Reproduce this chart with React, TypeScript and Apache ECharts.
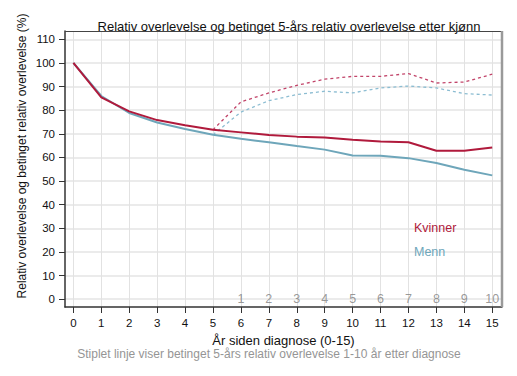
import React, { useEffect, useRef } from "react";
import * as echarts from "echarts";

const years = [0, 1, 2, 3, 4, 5, 6, 7, 8, 9, 10, 11, 12, 13, 14, 15];
const kvinner = [100, 85.4, 79.5, 75.8, 73.6, 71.7, 70.6, 69.5, 68.8, 68.4, 67.5, 66.7, 66.4, 62.8, 62.8, 64.2];
const menn = [100, 86.0, 78.8, 74.8, 72.0, 69.6, 67.9, 66.4, 64.8, 63.3, 60.8, 60.7, 59.7, 57.6, 54.8, 52.4];
const condYears = [5, 6, 7, 8, 9, 10, 11, 12, 13, 14, 15];
const kvinnerCond = [71.7, 83.5, 87.3, 90.5, 93.1, 94.3, 94.3, 95.5, 91.5, 91.9, 95.2];
const mennCond = [69.6, 79.2, 84.0, 86.6, 88.0, 87.3, 89.4, 90.2, 89.4, 87.0, 86.4];
const condLabelYears = [6, 7, 8, 9, 10, 11, 12, 13, 14, 15];
const condLabels = ["1", "2", "3", "4", "5", "6", "7", "8", "9", "10"];
const yTicks = [0, 10, 20, 30, 40, 50, 60, 70, 80, 90, 100, 110];

const RED = "#b01a3c";
const BLUE = "#6ea6ba";
const RED_D = "#c2456a";
const BLUE_D = "#8cbdd2";
const FONT = "'Liberation Sans', Arial, sans-serif";

export default function App() {
  const ref = useRef<HTMLDivElement>(null);
  useEffect(() => {
    const chart = echarts.init(ref.current!, null, { renderer: "svg" });
    const pair = (xs: number[], ys: number[]) => xs.map((x, i) => [x, ys[i]]);
    chart.setOption({
      animation: false,
      backgroundColor: "#ffffff",
      textStyle: { fontFamily: FONT },
      title: {
        text: "Relativ overlevelse og betinget 5-års relativ overlevelse etter kjønn",
        left: 284,
        top: 15,
        textAlign: "center",
        textStyle: { fontSize: 13, fontWeight: "normal", color: "#111", fontFamily: FONT },
      },
      grid: { left: 65, right: 15, top: 31, bottom: 69, show: false },
      xAxis: {
        type: "value",
        min: -0.3,
        max: 15.35,
        name: "År siden diagnose (0-15)",
        nameLocation: "middle",
        nameGap: 21,
        nameTextStyle: { fontSize: 13, lineHeight: 14, color: "#111", fontFamily: FONT },
        axisLine: { show: true, onZero: false, lineStyle: { color: "#333", width: 1.5 } },
        axisTick: { show: true, length: 6, customValues: years, lineStyle: { color: "#333" } },
        axisLabel: { customValues: years, fontSize: 11.5, color: "#111", margin: 10, fontFamily: FONT },
        splitLine: { show: true, lineStyle: { color: "#e2e2e2", width: 1 } },
      },
      yAxis: {
        type: "value",
        min: -3.3,
        max: 113.5,
        axisLine: { show: true, onZero: false, lineStyle: { color: "#333", width: 1.5 } },
        axisTick: { show: true, length: 6, customValues: yTicks, lineStyle: { color: "#333" } },
        axisLabel: { customValues: yTicks, fontSize: 11.5, color: "#111", margin: 10, fontFamily: FONT },
        splitLine: { show: true, lineStyle: { color: "#e4e4e4", width: 1.5 } },
      },
      series: [
        {
          type: "line",
          data: pair(condYears, mennCond),
          symbol: "none",
          lineStyle: { color: BLUE_D, width: 1.3, type: [3, 3] },
        },
        {
          type: "line",
          data: pair(condYears, kvinnerCond),
          symbol: "none",
          lineStyle: { color: RED_D, width: 1.3, type: [3, 3] },
        },
        {
          type: "line",
          data: pair(years, menn),
          symbol: "none",
          lineStyle: { color: BLUE, width: 2 },
        },
        {
          type: "line",
          data: pair(years, kvinner),
          symbol: "none",
          lineStyle: { color: RED, width: 2 },
        },
        {
          type: "scatter",
          data: condLabelYears.map((x, i) => ({ value: [x, 0], name: condLabels[i] })),
          symbolSize: 0,
          silent: true,
          z: 20,
          label: {
            show: true,
            position: "inside",
            formatter: (p: any) => p.name,
            fontSize: 12.5,
            color: "#7f7f7f",
            fontFamily: FONT,
          },
        },
      ],
      graphic: [
        {
          type: "line",
          shape: { x1: 65, y1: 31.5, x2: 502, y2: 31.5 },
          style: { stroke: "#444", lineWidth: 1.2 },
          z: 10,
        },
        {
          type: "line",
          shape: { x1: 502, y1: 31, x2: 502, y2: 307 },
          style: { stroke: "#9a9a9a", lineWidth: 2.5 },
          z: 10,
        },
        {
          type: "text",
          x: 22,
          y: 156,
          rotation: Math.PI / 2,
          z: 100,
          style: {
            text: "Relativ overlevelse og betinget relativ overlevelse (%)",
            fontSize: 12,
            fill: "#111",
            fontFamily: FONT,
            align: "center",
            verticalAlign: "middle",
          },
        },
        {
          type: "text",
          x: 414,
          y: 228,
          z: 100,
          style: { text: "Kvinner", fontSize: 12.5, fill: RED, fontFamily: FONT, verticalAlign: "middle" },
        },
        {
          type: "text",
          x: 414,
          y: 252,
          z: 100,
          style: { text: "Menn", fontSize: 12.5, fill: BLUE, fontFamily: FONT, verticalAlign: "middle" },
        },
        {
          type: "text",
          x: 269,
          y: 354,
          z: 100,
          style: {
            text: "Stiplet linje viser betinget 5-års relativ overlevelse 1-10 år etter diagnose",
            fontSize: 12,
            lineHeight: 13,
            fill: "#959595",
            fontFamily: FONT,
            align: "center",
            verticalAlign: "middle",
          },
        },
      ],
    });
    return () => chart.dispose();
  }, []);
  return <div ref={ref} style={{ width: 517, height: 376, position: "absolute", left: 0, top: 0 }} />;
}
